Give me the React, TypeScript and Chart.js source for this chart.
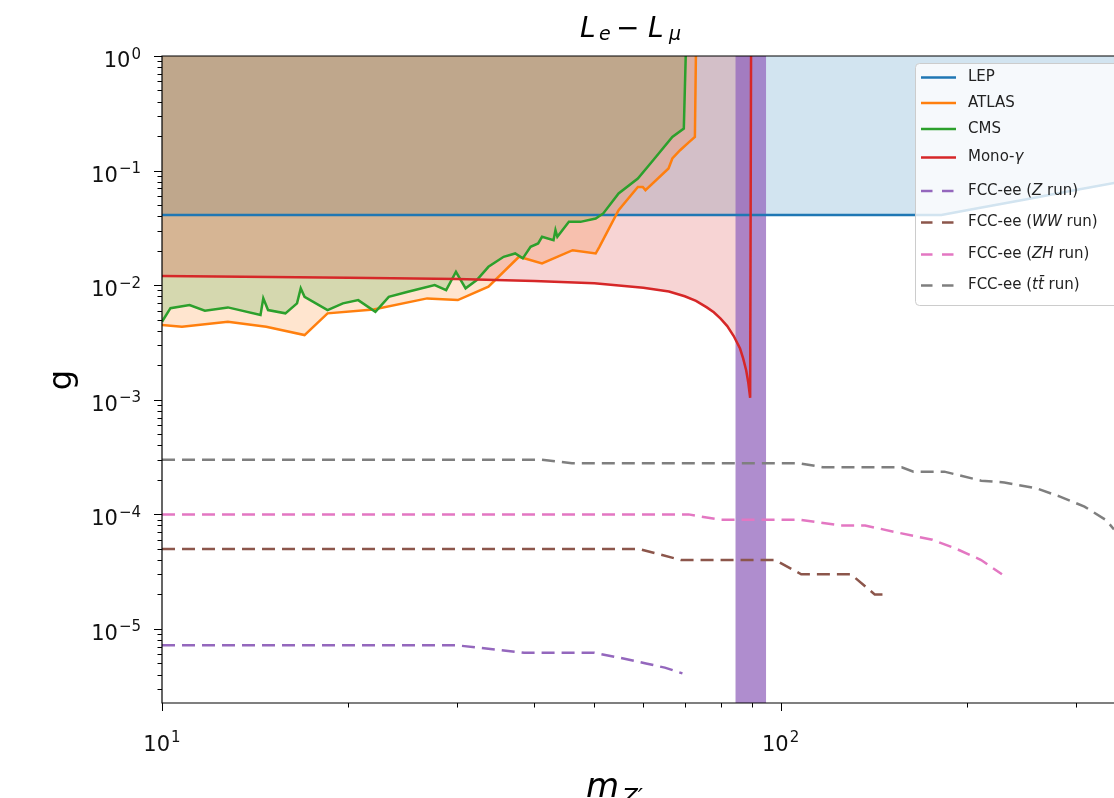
import React, { useEffect, useRef } from 'react';
import { Chart, registerables } from 'chart.js';

Chart.register(...registerables);

// ---- axis ranges ----
const X_MIN = 10;
const X_MAX = 346;
const Y_MIN = 2.26e-6;
const Y_MAX = 1;

// ---- tick labels ----
const yTickExponents = [0, -1, -2, -3, -4, -5];
const xTickExponents = [1, 2];
const xMinorTicks = [20, 30, 40, 50, 60, 70, 80, 90, 200, 300];

// ---- series data (mass m_Z' in GeV, coupling g) ----
const lepMass = [10, 182, 200, 250, 300, 350];
const lepG = [0.041, 0.041, 0.045, 0.0563, 0.0676, 0.0789];

const atlasMass = [10, 10.77, 12.78, 14.74, 17.0, 18.52, 21.98, 26.83, 30.08, 33.71, 37.77, 41.15, 46.12, 50.25, 50.95, 54.72, 58.79, 59.87, 60.48, 65.9, 66.84, 68.8, 71.2, 72.7, 72.97];
const atlasG = [0.00449, 0.00434, 0.0048, 0.00434, 0.00367, 0.00568, 0.00615, 0.00767, 0.00742, 0.00969, 0.0177, 0.0155, 0.0202, 0.0189, 0.0216, 0.0452, 0.0721, 0.0721, 0.0675, 0.1043, 0.1275, 0.1506, 0.178, 0.1967, 1.0];

const cmsMass = [10, 10.32, 11.08, 11.73, 12.78, 14.43, 14.58, 14.84, 15.83, 16.53, 16.76, 17.0, 18.52, 19.61, 20.76, 22.13, 23.26, 24.98, 27.6, 28.8, 29.87, 30.96, 32.28, 33.71, 35.67, 37.24, 38.31, 39.43, 40.56, 41.15, 42.95, 43.26, 43.57, 45.48, 47.47, 50.25, 51.69, 54.72, 58.79, 62.23, 66.84, 69.76, 70.26];
const cmsG = [0.0048, 0.0063, 0.0067, 0.00598, 0.0064, 0.00549, 0.00767, 0.00607, 0.00568, 0.00694, 0.00938, 0.00792, 0.00607, 0.00694, 0.00741, 0.00586, 0.00792, 0.00876, 0.01002, 0.00907, 0.0131, 0.00938, 0.01108, 0.01447, 0.0177, 0.01892, 0.01713, 0.0216, 0.02314, 0.02642, 0.0247, 0.0302, 0.0264, 0.0357, 0.0357, 0.0382, 0.0423, 0.0632, 0.0853, 0.1232, 0.1967, 0.2328, 1.0];

const monoMass = [10, 15, 20, 30, 40, 50, 60, 66, 70, 73, 76, 78, 80, 82, 84, 86, 87, 88, 88.7, 89.3, 89.6];
const monoG = [0.012, 0.0118, 0.0116, 0.0113, 0.0109, 0.0104, 0.0095, 0.0088, 0.008, 0.0073, 0.0064, 0.0058, 0.0051, 0.0044, 0.0036, 0.0028, 0.0023, 0.0018, 0.0014, 0.00104, 1.0];

const fccZMass = [10, 30, 38.5, 50, 55, 60.6, 65, 69.4];
const fccZG = [7.2e-6, 7.2e-6, 6.2e-6, 6.2e-6, 5.6e-6, 5.0e-6, 4.6e-6, 4.1e-6];

const fccWWMass = [10, 59, 69, 98, 108, 130, 142, 148];
const fccWWG = [5e-5, 5e-5, 4e-5, 4e-5, 3e-5, 3e-5, 2e-5, 2e-5];

const fccZHMass = [10, 71, 79.6, 107, 125, 137, 153.5, 176, 192.5, 211, 228];
const fccZHG = [1e-4, 1e-4, 9e-5, 9e-5, 8e-5, 8e-5, 7e-5, 6e-5, 5e-5, 4e-5, 3e-5];

const fccTTMass = [10, 41, 46, 107, 117, 157, 164, 184, 211, 230, 259, 283, 310, 336, 346];
const fccTTG = [3e-4, 3e-4, 2.8e-4, 2.8e-4, 2.58e-4, 2.58e-4, 2.36e-4, 2.36e-4, 1.97e-4, 1.9e-4, 1.69e-4, 1.43e-4, 1.17e-4, 8.9e-5, 7.4e-5];

// Z-pole excluded band
const zBandMass = [84.5, 94.8];
const zBandG = [1, 1];

const COLORS = {
  blue: '#1f77b4',
  orange: '#ff7f0e',
  green: '#2ca02c',
  red: '#d62728',
  purple: '#9467bd',
  brown: '#8c564b',
  pink: '#e377c2',
  gray: '#7f7f7f',
};

const DASH = [13, 7];

// legend entries: text segments (i = italic)
const legendEntries = [
  { color: COLORS.blue, dashed: false, segs: [{ t: 'LEP' }] },
  { color: COLORS.orange, dashed: false, segs: [{ t: 'ATLAS' }] },
  { color: COLORS.green, dashed: false, segs: [{ t: 'CMS' }] },
  { color: COLORS.red, dashed: false, segs: [{ t: 'Mono-' }, { t: 'γ', i: true }] },
  { color: COLORS.purple, dashed: true, segs: [{ t: 'FCC-ee (' }, { t: 'Z', i: true }, { t: ' run)' }] },
  { color: COLORS.brown, dashed: true, segs: [{ t: 'FCC-ee (' }, { t: 'WW', i: true }, { t: ' run)' }] },
  { color: COLORS.pink, dashed: true, segs: [{ t: 'FCC-ee (' }, { t: 'ZH', i: true }, { t: ' run)' }] },
  { color: COLORS.gray, dashed: true, segs: [{ t: 'FCC-ee (' }, { t: 't\u0074\u0304', i: true }, { t: ' run)' }] },
];
const legendRowY = [77.5, 103, 129, 157.5, 191, 222.5, 254.5, 285.5];

const FONT = '"DejaVu Sans", sans-serif';

function pts(xs: number[], ys: number[]) {
  return xs.map((x, i) => ({ x, y: ys[i] }));
}

function drawPow(ctx: CanvasRenderingContext2D, exp: number, xPos: number, yc: number, align: 'right' | 'center') {
  const base = '10';
  const sup = exp < 0 ? '\u2212' + Math.abs(exp) : String(exp);
  ctx.font = `21px ${FONT}`;
  const wb = ctx.measureText(base).width;
  ctx.font = `15px ${FONT}`;
  const ws = ctx.measureText(sup).width;
  const total = wb + 1 + ws;
  const x0 = align === 'right' ? xPos - total : xPos - total / 2;
  ctx.textAlign = 'left';
  ctx.textBaseline = 'alphabetic';
  ctx.font = `21px ${FONT}`;
  ctx.fillText(base, x0, yc + 7.6);
  ctx.font = `15px ${FONT}`;
  ctx.fillText(sup, x0 + wb + 1, yc - 1);
}

const decorPlugin = {
  id: 'decor',
  afterDraw(chart: any) {
    const { ctx, chartArea: a, scales } = chart;
    const xs = scales.x;
    const ys = scales.y;
    ctx.save();
    ctx.strokeStyle = '#000';
    ctx.fillStyle = '#000';
    ctx.lineWidth = 1.2;
    ctx.setLineDash([]);
    // frame (top, left, bottom)
    ctx.beginPath();
    ctx.moveTo(a.right + 2, a.top);
    ctx.lineTo(a.left, a.top);
    ctx.lineTo(a.left, a.bottom);
    ctx.lineTo(a.right + 2, a.bottom);
    ctx.stroke();

    // y ticks
    ctx.lineWidth = 1;
    for (let e = -6; e <= 0; e++) {
      for (let m = 1; m <= 9; m++) {
        const v = m * Math.pow(10, e);
        if (v < Y_MIN * 0.999 || v > Y_MAX * 1.001) continue;
        const py = Math.round(ys.getPixelForValue(v)) + 0.5;
        const len = m === 1 ? 8 : 4.5;
        ctx.beginPath();
        ctx.moveTo(a.left - len, py);
        ctx.lineTo(a.left, py);
        ctx.stroke();
      }
    }
    // x ticks
    for (const e of xTickExponents) {
      const px = Math.round(xs.getPixelForValue(Math.pow(10, e))) + 0.5;
      ctx.beginPath();
      ctx.moveTo(px, a.bottom);
      ctx.lineTo(px, a.bottom + 8);
      ctx.stroke();
    }
    for (const v of xMinorTicks) {
      const px = Math.round(xs.getPixelForValue(v)) + 0.5;
      ctx.beginPath();
      ctx.moveTo(px, a.bottom);
      ctx.lineTo(px, a.bottom + 4.5);
      ctx.stroke();
    }

    // tick labels
    ctx.fillStyle = '#111';
    for (const e of yTickExponents) {
      const py = ys.getPixelForValue(Math.pow(10, e));
      drawPow(ctx, e, 141, py + 3.5, 'right');
    }
    for (const e of xTickExponents) {
      const px = xs.getPixelForValue(Math.pow(10, e));
      drawPow(ctx, e, px, 743, 'center');
    }

    // title  L_e - L_mu
    ctx.fillStyle = '#000';
    ctx.textAlign = 'left';
    ctx.textBaseline = 'alphabetic';
    ctx.font = `italic 28px ${FONT}`;
    ctx.fillText('L', 580, 37);
    ctx.font = `italic 19px ${FONT}`;
    ctx.fillText('e', 599, 40);
    ctx.font = `28px ${FONT}`;
    ctx.fillText('\u2212', 616, 37);
    ctx.font = `italic 28px ${FONT}`;
    ctx.fillText('L', 648, 37);
    ctx.font = `italic 19px ${FONT}`;
    ctx.fillText('\u03bc', 669, 40);

    // y label
    ctx.save();
    ctx.translate(63, 380);
    ctx.rotate(-Math.PI / 2);
    ctx.textAlign = 'center';
    ctx.textBaseline = 'middle';
    ctx.font = `32px ${FONT}`;
    ctx.fillText('g', 0, 0);
    ctx.restore();

    // x label m_{Z'}
    ctx.textAlign = 'left';
    ctx.textBaseline = 'alphabetic';
    ctx.font = `italic 34px ${FONT}`;
    ctx.fillText('m', 586, 797);
    ctx.font = `italic 23px ${FONT}`;
    ctx.fillText('Z\u2032', 622, 805);

    // legend
    const lx = 915.5, ly = 63.5, lw = 240, lh = 242;
    ctx.setLineDash([]);
    ctx.beginPath();
    if (ctx.roundRect) ctx.roundRect(lx, ly, lw, lh, 4);
    else ctx.rect(lx, ly, lw, lh);
    ctx.fillStyle = 'rgba(255,255,255,0.8)';
    ctx.fill();
    ctx.strokeStyle = '#cccccc';
    ctx.lineWidth = 1;
    ctx.stroke();
    legendEntries.forEach((ent, i) => {
      const yy = legendRowY[i];
      ctx.strokeStyle = ent.color;
      ctx.lineWidth = 2.5;
      ctx.setLineDash(ent.dashed ? [11.5, 9.5] : []);
      ctx.beginPath();
      ctx.moveTo(921, yy);
      ctx.lineTo(956, yy);
      ctx.stroke();
      let tx = 968;
      ctx.fillStyle = '#222';
      ctx.textBaseline = 'middle';
      ctx.textAlign = 'left';
      for (const s of ent.segs as any[]) {
        ctx.font = `${s.i ? 'italic ' : ''}15px ${FONT}`;
        ctx.fillText(s.t, tx, yy);
        tx += ctx.measureText(s.t).width;
      }
    });
    ctx.restore();
  },
};

export default function App() {
  const ref = useRef<HTMLCanvasElement | null>(null);
  useEffect(() => {
    const canvas = ref.current;
    if (!canvas) return;
    const line = (label: string, xs: number[], ys: number[], color: string, dashed: boolean, fillColor?: string) => ({
      label,
      data: pts(xs, ys),
      borderColor: color,
      borderWidth: 2.5,
      borderDash: dashed ? DASH : [],
      pointRadius: 0,
      tension: 0,
      fill: fillColor ? 'end' : false,
      backgroundColor: fillColor || 'transparent',
    });
    const chart = new Chart(canvas, {
      type: 'line',
      data: {
        datasets: [
          {
            label: 'Z pole',
            data: pts(zBandMass, zBandG),
            borderColor: 'rgba(0,0,0,0)',
            borderWidth: 0,
            pointRadius: 0,
            fill: 'start',
            backgroundColor: 'rgba(148,103,189,0.75)',
          },
          line('FCC-ee (tt run)', fccTTMass, fccTTG, COLORS.gray, true),
          line('FCC-ee (ZH run)', fccZHMass, fccZHG, COLORS.pink, true),
          line('FCC-ee (WW run)', fccWWMass, fccWWG, COLORS.brown, true),
          line('FCC-ee (Z run)', fccZMass, fccZG, COLORS.purple, true),
          line('Mono-γ', monoMass, monoG, COLORS.red, false, 'rgba(214,39,40,0.2)'),
          line('CMS', cmsMass, cmsG, COLORS.green, false, 'rgba(44,160,44,0.2)'),
          line('ATLAS', atlasMass, atlasG, COLORS.orange, false, 'rgba(255,127,14,0.2)'),
          line('LEP', lepMass, lepG, COLORS.blue, false, 'rgba(31,119,180,0.2)'),
        ] as any,
      },
      options: {
        responsive: false,
        devicePixelRatio: 1,
        animation: false,
        events: [],
        layout: { padding: { left: 162, top: 56, right: 0, bottom: 95 } },
        plugins: {
          legend: { display: false },
          tooltip: { enabled: false },
          title: { display: false },
          filler: { drawTime: 'beforeDatasetsDraw' },
        } as any,
        scales: {
          x: {
            type: 'logarithmic',
            min: X_MIN,
            max: X_MAX,
            bounds: 'data',
            display: false,
          },
          y: {
            type: 'logarithmic',
            min: Y_MIN,
            max: Y_MAX,
            bounds: 'data',
            display: false,
          },
        } as any,
      },
      plugins: [decorPlugin],
    });
    return () => chart.destroy();
  }, []);
  return (
    <div style={{ position: 'fixed', left: 0, top: 0, width: 1114, height: 798, overflow: 'hidden', background: '#fff' }}>
      <canvas ref={ref} width={1114} height={798} style={{ display: 'block', width: 1114, height: 798 }} />
    </div>
  );
}
